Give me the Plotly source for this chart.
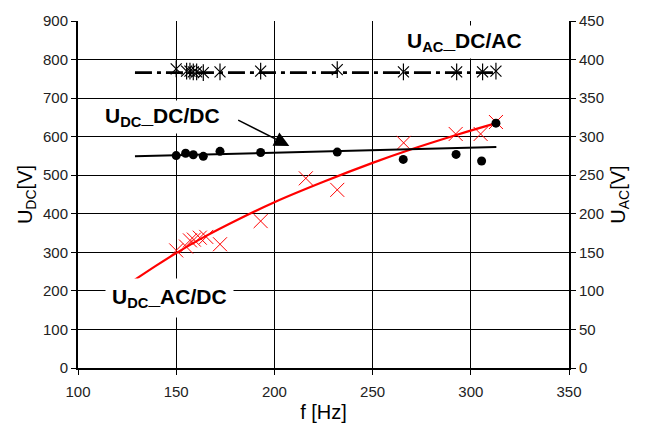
import plotly.graph_objects as go

# Measured DC-link voltage, DC/DC converter
f_dcdc = [150, 154.8, 158.7, 163.8, 172.3, 193, 232, 265.6, 292.5, 305.5, 312.8]
u_dcdc = [551, 557, 553, 549, 562, 559, 560, 541, 554, 537, 635]
# Linear trend of the DC/DC points
f_dcdc_fit = [129, 313]
u_dcdc_fit = [549, 573]

# Measured DC-link voltage, AC/DC converter
f_acdc = [150, 155, 157, 159, 162, 165.3, 172.3, 193, 216, 232, 265.8, 292.3, 305, 312.8]
u_acdc = [305, 315, 331, 333, 338, 340, 321, 381, 492, 462, 584, 607, 607, 638]
# Trend curve of the AC/DC points
f_acdc_fit = [129, 140, 150, 165, 181, 200, 225, 250, 269, 293, 313]
u_acdc_fit = [229, 266, 298, 342, 384, 430, 483, 532, 566, 605, 635]

# AC output voltage, DC/AC inverter (right axis)
f_dcac = [150, 155.3, 157, 158.7, 160.4, 163.8, 172.3, 193, 232, 265.7, 292.8, 306, 312.8]
u_dcac = [388, 385, 385, 384, 384, 383, 384, 385, 387, 384, 384, 384, 385]
f_dcac_fit = [129, 313]
u_dcac_fit = [383, 383]

x_ticks = [100, 150, 200, 250, 300, 350]
y_ticks = [0, 100, 200, 300, 400, 500, 600, 700, 800, 900]
y2_ticks = [0, 50, 100, 150, 200, 250, 300, 350, 400, 450]

FONT = "Arial, Liberation Sans, sans-serif"
GRID = "#000000"

fig = go.Figure()

# DC/AC series on the secondary axis
fig.add_trace(go.Scatter(x=f_dcac_fit, y=u_dcac_fit, yaxis="y2", mode="lines",
                         line=dict(color="black", width=2.7, dash="17px,5px,4px,5px"),
                         showlegend=False))
fig.add_trace(go.Scatter(x=f_dcac, y=u_dcac, yaxis="y2", mode="markers",
                         marker=dict(symbol="x-thin-open", size=11, color="black",
                                     line=dict(color="black", width=1.2)),
                         showlegend=False))
fig.add_trace(go.Scatter(x=f_dcac, y=u_dcac, yaxis="y2", mode="markers",
                         marker=dict(symbol="line-ns-open", size=12, color="black",
                                     line=dict(color="black", width=1.2)),
                         showlegend=False))

# AC/DC series
fig.add_trace(go.Scatter(x=f_acdc_fit, y=u_acdc_fit, mode="lines",
                         line=dict(color="#ff0000", width=2.2, shape="spline"),
                         showlegend=False))
fig.add_trace(go.Scatter(x=f_acdc, y=u_acdc, mode="markers",
                         marker=dict(symbol="x-thin-open", size=14, color="#ff0000",
                                     line=dict(color="#ff0000", width=1)),
                         showlegend=False))

# DC/DC series
fig.add_trace(go.Scatter(x=f_dcdc_fit, y=u_dcdc_fit, mode="lines",
                         line=dict(color="black", width=2),
                         showlegend=False))
fig.add_trace(go.Scatter(x=f_dcdc, y=u_dcdc, mode="markers",
                         marker=dict(symbol="circle", size=9, color="black"),
                         showlegend=False))

label_font = dict(family=FONT, size=21, color="black")

fig.add_annotation(x=297, y=846, xref="x", yref="y",
                   text="<b>U<sub>AC</sub>_DC/AC</b>", showarrow=False,
                   font=label_font, bgcolor="white", borderpad=3)
fig.add_annotation(x=207.6, y=576, ax=180.8, ay=645, xref="x", yref="y",
                   axref="x", ayref="y", text="", showarrow=True,
                   arrowhead=2, arrowsize=2, arrowwidth=1.5, arrowcolor="black")
fig.add_annotation(x=143, y=650, xref="x", yref="y",
                   text="<b>U<sub>DC</sub>_DC/DC</b>", showarrow=False,
                   font=label_font, bgcolor="white", borderpad=3)
fig.add_annotation(x=146.8, y=182, xref="x", yref="y",
                   text="<b>U<sub>DC</sub>_AC/DC</b>", showarrow=False,
                   font=label_font, bgcolor="white", borderpad=6)

axis_common = dict(showline=True, linecolor="black", linewidth=2,
                   ticks="outside", ticklen=5, tickcolor="black",
                   tickfont=dict(family=FONT, size=15, color="#222"),
                   zeroline=False)

title_font = dict(family=FONT, size=20, color="black")

fig.update_layout(
    width=648, height=432,
    margin=dict(l=78, r=79, t=17, b=63),
    paper_bgcolor="white", plot_bgcolor="white",
    font=dict(family=FONT, color="black"),
    xaxis=dict(range=[100, 350], tickvals=x_ticks, ticklabelstandoff=4,
               showgrid=True, gridcolor=GRID, gridwidth=1,
               title=dict(text="f [Hz]", font=title_font, standoff=6),
               **axis_common),
    yaxis=dict(range=[0, 900], tickvals=y_ticks,
               showgrid=True, gridcolor=GRID, gridwidth=1,
               title=dict(text="U<sub>DC</sub>[V]", font=title_font, standoff=5),
               **axis_common),
    yaxis2=dict(range=[0, 450], tickvals=y2_ticks, overlaying="y", side="right",
                showgrid=False,
                title=dict(text="U<sub>AC</sub>[V]", font=title_font, standoff=8),
                **axis_common),
    showlegend=False,
)

fig.write_html("out.html")
